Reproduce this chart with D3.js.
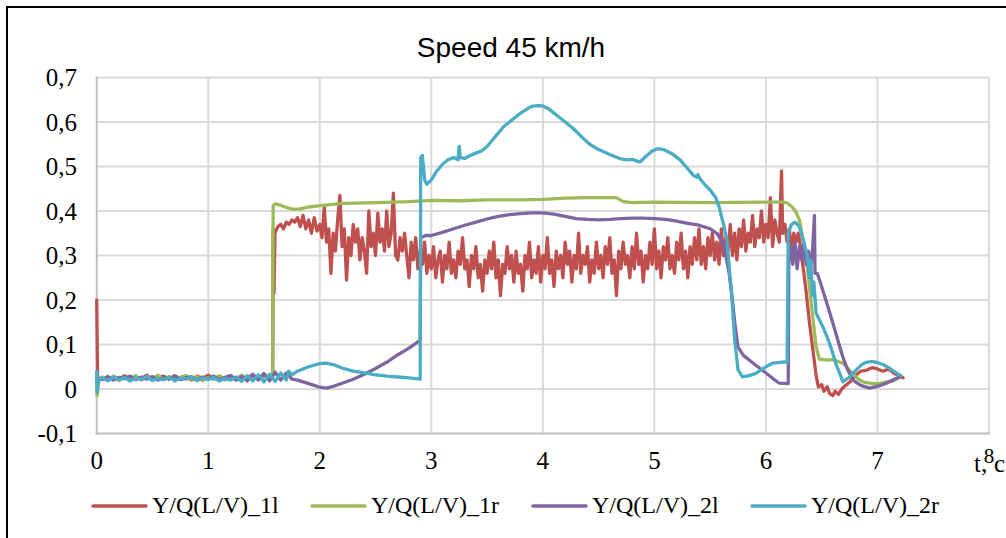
<!DOCTYPE html>
<html><head><meta charset="utf-8">
<script src="https://cdn.jsdelivr.net/npm/d3@7"></script>
<style>body{margin:0;background:#fff}svg{display:block}</style>
</head><body>
<svg id="chart" width="1006" height="538"></svg>
<script>
const chartTitle = "Speed 45 km/h";
const xAxisTitle = "t,c";
const xTicks = [0,1,2,3,4,5,6,7,8];
const yTicks = [-0.1,0,0.1,0.2,0.3,0.4,0.5,0.6,0.7];
const seriesNames = ["Y/Q(L/V)_1l","Y/Q(L/V)_1r","Y/Q(L/V)_2l","Y/Q(L/V)_2r"];
const seriesColors = ["#c0504d","#9bbb59","#8064a2","#4bacc6"];

const s1l = [[0,0.20],[0.008,0.022],[0.05,0.026],[0.10,0.019],[0.15,0.028],[0.20,0.022],[0.25,0.03],[0.30,0.021],[0.35,0.027],[0.40,0.024],[0.45,0.031],[0.50,0.02],[0.55,0.026],[0.60,0.029],[0.65,0.022],[0.70,0.03],[0.75,0.023],[0.80,0.027],[0.85,0.02],[0.90,0.029],[0.95,0.024],[1.00,0.031],[1.05,0.022],[1.10,0.027],[1.15,0.024],[1.20,0.03],[1.25,0.021],[1.30,0.028],[1.35,0.025],[1.40,0.032],[1.45,0.022],[1.50,0.029],[1.55,0.024],[1.578,0.03],
[1.582,0.36],[1.59,0.215],[1.598,0.35],[1.625,0.365],[1.65,0.37],[1.675,0.36],[1.70,0.375],[1.725,0.37],[1.75,0.38],[1.775,0.375],[1.80,0.385],[1.825,0.365],[1.85,0.39],[1.875,0.36],[1.90,0.38],[1.925,0.35],[1.95,0.385],[1.975,0.355],
[2.00,0.37],[2.02,0.34],[2.04,0.41],[2.06,0.33],[2.08,0.36],[2.10,0.26],[2.12,0.35],[2.14,0.31],[2.16,0.38],[2.18,0.435],[2.20,0.32],[2.22,0.36],[2.24,0.245],[2.26,0.34],[2.28,0.30],[2.30,0.37],[2.32,0.33],[2.34,0.36],[2.36,0.29],[2.38,0.34],[2.40,0.31],[2.42,0.26],[2.44,0.40],[2.46,0.32],[2.48,0.35],[2.50,0.30],[2.52,0.395],[2.54,0.33],[2.56,0.36],[2.58,0.31],[2.60,0.40],[2.62,0.32],[2.64,0.35],[2.66,0.44],[2.68,0.30],[2.70,0.29],[2.72,0.34],[2.74,0.31],[2.76,0.35],[2.78,0.30],[2.80,0.25],[2.82,0.33],[2.84,0.29],[2.86,0.34],[2.88,0.27],[2.90,0.31],[2.92,0.28],[2.94,0.33],[2.96,0.26],[2.98,0.30],
[3.00,0.27],[3.02,0.32],[3.04,0.25],[3.06,0.29],[3.08,0.31],[3.10,0.24],[3.12,0.30],[3.14,0.27],[3.16,0.33],[3.18,0.26],[3.20,0.29],[3.22,0.25],[3.24,0.31],[3.26,0.28],[3.28,0.34],[3.30,0.27],[3.32,0.29],[3.34,0.23],[3.36,0.30],[3.38,0.27],[3.40,0.32],[3.42,0.25],[3.44,0.28],[3.46,0.22],[3.48,0.29],[3.50,0.26],[3.52,0.31],[3.54,0.27],[3.56,0.33],[3.58,0.25],[3.60,0.29],[3.62,0.21],[3.64,0.28],[3.66,0.26],[3.68,0.32],[3.70,0.27],[3.72,0.30],[3.74,0.24],[3.76,0.31],[3.78,0.26],[3.80,0.28],[3.82,0.22],[3.84,0.30],[3.86,0.27],[3.88,0.33],[3.90,0.25],[3.92,0.29],[3.94,0.26],[3.96,0.32],[3.98,0.24],
[4.00,0.30],[4.02,0.27],[4.04,0.34],[4.06,0.26],[4.08,0.29],[4.10,0.23],[4.12,0.31],[4.14,0.27],[4.16,0.30],[4.18,0.25],[4.20,0.33],[4.22,0.28],[4.24,0.31],[4.26,0.24],[4.28,0.30],[4.30,0.27],[4.32,0.35],[4.34,0.26],[4.36,0.30],[4.38,0.28],[4.40,0.32],[4.42,0.24],[4.44,0.29],[4.46,0.26],[4.48,0.33],[4.50,0.27],[4.52,0.30],[4.54,0.25],[4.56,0.32],[4.58,0.28],[4.60,0.34],[4.62,0.26],[4.64,0.29],[4.66,0.21],[4.68,0.31],[4.70,0.27],[4.72,0.33],[4.74,0.28],[4.76,0.30],[4.78,0.25],[4.80,0.32],[4.82,0.27],[4.84,0.35],[4.86,0.28],[4.88,0.31],[4.90,0.24],[4.92,0.30],[4.94,0.27],[4.96,0.33],[4.98,0.28],
[5.00,0.36],[5.02,0.27],[5.04,0.31],[5.06,0.25],[5.08,0.32],[5.10,0.29],[5.12,0.34],[5.14,0.27],[5.16,0.30],[5.18,0.26],[5.20,0.33],[5.22,0.29],[5.24,0.35],[5.26,0.27],[5.28,0.31],[5.30,0.25],[5.32,0.32],[5.34,0.28],[5.36,0.34],[5.38,0.29],[5.40,0.36],[5.42,0.28],[5.44,0.32],[5.46,0.27],[5.48,0.34],[5.50,0.30],[5.52,0.35],[5.54,0.29],[5.56,0.33],[5.58,0.28],[5.60,0.36],[5.62,0.30],[5.64,0.34],[5.66,0.31],[5.68,0.37],[5.70,0.30],[5.72,0.35],[5.74,0.29],[5.76,0.36],[5.78,0.32],[5.80,0.38],[5.82,0.31],[5.84,0.35],[5.86,0.33],[5.88,0.39],[5.90,0.32],[5.92,0.36],[5.94,0.34],[5.96,0.40],[5.98,0.33],
[6.00,0.37],[6.02,0.34],[6.04,0.43],[6.06,0.32],[6.08,0.38],[6.10,0.35],[6.12,0.33],[6.14,0.49],[6.15,0.35],[6.17,0.37],[6.19,0.33],[6.21,0.36],[6.23,0.31],[6.25,0.35],[6.27,0.33],[6.29,0.35],[6.31,0.32],
[6.33,0.28],[6.36,0.22],[6.39,0.15],[6.42,0.09],[6.45,0.03],[6.47,0.005],[6.50,0.01],[6.52,-0.005],[6.55,0.005],[6.57,-0.01],[6.60,-0.015],[6.62,-0.005],[6.65,-0.012],[6.68,0.0],[6.70,0.005],[6.75,0.015],[6.80,0.03],[6.85,0.04],[6.90,0.042],[6.95,0.048],[7.00,0.045],[7.05,0.04],[7.10,0.045],[7.15,0.035],[7.20,0.03],[7.23,0.025]];

const s1r = [[0,0.03],[0.004,-0.015],[0.02,0.02],[0.05,0.027],[0.10,0.02],[0.15,0.029],[0.20,0.019],[0.25,0.026],[0.30,0.023],[0.35,0.03],[0.40,0.02],[0.45,0.027],[0.50,0.024],[0.55,0.031],[0.60,0.021],[0.65,0.028],[0.70,0.02],[0.75,0.026],[0.80,0.03],[0.85,0.022],[0.90,0.028],[0.95,0.019],[1.00,0.026],[1.05,0.023],[1.10,0.03],[1.15,0.02],[1.20,0.027],[1.25,0.024],[1.30,0.031],[1.35,0.021],[1.40,0.028],[1.45,0.023],[1.50,0.03],[1.55,0.022],[1.578,0.026],
[1.582,0.412],[1.60,0.416],[1.65,0.413],[1.70,0.408],[1.76,0.404],[1.82,0.405],[1.91,0.409],[2.0,0.412],[2.21,0.417],[2.5,0.419],[2.66,0.42],[2.8,0.421],[3.0,0.424],[3.26,0.423],[3.5,0.425],[3.8,0.425],[4.0,0.426],[4.2,0.429],[4.4,0.43],[4.66,0.43],[4.72,0.421],[4.8,0.419],[5.0,0.42],[5.5,0.419],[6.0,0.42],[6.15,0.42],[6.19,0.418],[6.23,0.41],[6.26,0.402],[6.30,0.38],[6.36,0.297],[6.41,0.185],[6.45,0.094],[6.48,0.067],[6.55,0.065],[6.60,0.066],[6.69,0.058],[6.74,0.045],[6.78,0.034],[6.83,0.022],[6.87,0.016],[6.95,0.012],[7.02,0.012],[7.08,0.016],[7.14,0.018],[7.2,0.027]];

const s2l = [[0,0.025],[0.05,0.021],[0.10,0.028],[0.15,0.02],[0.20,0.026],[0.25,0.023],[0.30,0.029],[0.35,0.021],[0.40,0.027],[0.45,0.022],[0.50,0.028],[0.55,0.02],[0.60,0.026],[0.65,0.023],[0.70,0.029],[0.75,0.021],[0.80,0.025],[0.85,0.028],[0.90,0.02],[0.95,0.027],[1.00,0.023],[1.05,0.029],[1.10,0.021],[1.15,0.026],[1.20,0.03],[1.25,0.02],[1.30,0.028],[1.35,0.018],[1.40,0.033],[1.45,0.02],[1.50,0.035],[1.55,0.018],[1.60,0.038],[1.65,0.02],[1.70,0.036],[1.75,0.022],
[1.80,0.02],[1.85,0.016],[1.90,0.012],[1.95,0.008],[2.00,0.004],[2.06,0.002],[2.12,0.006],[2.20,0.013],[2.30,0.022],[2.40,0.033],[2.50,0.046],[2.60,0.06],[2.70,0.077],[2.80,0.092],[2.88,0.106],[2.90,0.11],[2.905,0.34],[2.95,0.345],[3.0,0.345],[3.1,0.352],[3.2,0.36],[3.3,0.368],[3.4,0.375],[3.5,0.382],[3.6,0.388],[3.7,0.392],[3.8,0.394],[3.9,0.396],[4.0,0.396],[4.1,0.393],[4.2,0.388],[4.3,0.383],[4.4,0.381],[4.5,0.38],[4.6,0.381],[4.7,0.383],[4.8,0.384],[4.9,0.384],[5.0,0.383],[5.1,0.381],[5.2,0.377],[5.3,0.372],[5.4,0.368],[5.5,0.36],[5.56,0.35],[5.61,0.33],[5.64,0.3],[5.67,0.26],[5.70,0.2],[5.72,0.15],[5.75,0.094],[5.80,0.075],[5.85,0.065],[5.9,0.055],[6.0,0.036],[6.06,0.024],[6.12,0.013],[6.2,0.012],
[6.205,0.3],[6.22,0.32],[6.24,0.28],[6.26,0.33],[6.28,0.27],[6.30,0.32],[6.32,0.29],[6.34,0.33],[6.36,0.28],[6.38,0.31],[6.40,0.27],[6.42,0.32],[6.435,0.39],[6.44,0.26],[6.46,0.26],[6.5,0.23],[6.55,0.19],[6.6,0.148],[6.65,0.105],[6.69,0.072],[6.73,0.045],[6.78,0.02],[6.85,0.008],[6.93,0.002],[7.0,0.006],[7.08,0.013],[7.15,0.022],[7.2,0.027]];

const s2r = [[0,0.04],[0.004,-0.008],[0.015,0.02],[0.05,0.025],[0.10,0.019],[0.15,0.027],[0.20,0.021],[0.25,0.026],[0.30,0.018],[0.35,0.025],[0.40,0.022],[0.45,0.028],[0.50,0.019],[0.55,0.024],[0.60,0.021],[0.65,0.027],[0.70,0.018],[0.75,0.025],[0.80,0.022],[0.85,0.027],[0.90,0.019],[0.95,0.025],[1.00,0.021],[1.05,0.026],[1.10,0.018],[1.15,0.024],[1.20,0.02],[1.25,0.027],[1.30,0.017],[1.35,0.03],[1.40,0.018],[1.45,0.032],[1.50,0.016],[1.55,0.033],[1.60,0.017],[1.65,0.036],[1.70,0.02],[1.72,0.04],[1.75,0.032],
[1.80,0.04],[1.90,0.05],[2.00,0.057],[2.06,0.058],[2.12,0.055],[2.20,0.047],[2.30,0.04],[2.40,0.036],[2.50,0.032],[2.60,0.029],[2.70,0.027],[2.80,0.025],[2.90,0.022],[2.905,0.52],[2.92,0.525],[2.94,0.47],[2.96,0.46],[3.0,0.47],[3.05,0.49],[3.10,0.505],[3.15,0.515],[3.20,0.52],[3.24,0.515],[3.25,0.545],[3.26,0.52],[3.30,0.518],[3.35,0.525],[3.40,0.53],[3.45,0.535],[3.50,0.545],[3.55,0.56],[3.60,0.575],[3.65,0.59],[3.70,0.60],[3.75,0.61],[3.80,0.62],[3.85,0.628],[3.90,0.635],[3.95,0.637],[4.00,0.636],[4.05,0.63],[4.10,0.62],[4.15,0.61],[4.20,0.6],[4.27,0.586],[4.35,0.566],[4.42,0.55],[4.50,0.538],[4.60,0.527],[4.70,0.517],[4.75,0.515],[4.80,0.516],[4.87,0.51],[4.92,0.522],[4.98,0.535],[5.03,0.54],[5.08,0.538],[5.15,0.53],[5.23,0.515],[5.30,0.495],[5.35,0.48],[5.38,0.476],[5.39,0.482],[5.41,0.472],[5.45,0.46],[5.50,0.447],[5.55,0.43],[5.58,0.41],[5.62,0.37],[5.65,0.335],[5.69,0.22],[5.72,0.11],[5.75,0.043],[5.79,0.027],[5.85,0.03],[5.91,0.035],[6.00,0.05],[6.06,0.058],[6.17,0.061],[6.19,0.06],
[6.20,0.35],[6.23,0.37],[6.26,0.375],[6.30,0.365],[6.34,0.33],[6.37,0.30],[6.39,0.25],[6.40,0.29],[6.42,0.21],[6.43,0.24],[6.45,0.17],[6.51,0.14],[6.56,0.11],[6.60,0.08],[6.63,0.055],[6.66,0.036],[6.69,0.016],[6.75,0.027],[6.81,0.043],[6.86,0.055],[6.90,0.06],[6.95,0.062],[6.99,0.06],[7.05,0.055],[7.10,0.048],[7.17,0.036],[7.21,0.03]];

const allSeries = [s1l, s1r, s2l, s2r];

const svg = d3.select("#chart");
svg.append("rect").attr("width",1006).attr("height",538).attr("fill","#fff");
svg.append("rect").attr("x",7).attr("y",7).attr("width",1010).attr("height",545)
  .attr("fill","none").attr("stroke","#000").attr("stroke-width",2);

const x = d3.scaleLinear().domain([0,8]).range([96.7,989]);
const y = d3.scaleLinear().domain([-0.1,0.7]).range([433.5,77.5]);
const loc = d3.formatLocale({decimal:",",thousands:" ",grouping:[3],currency:["",""],minus:"-"});
const fmt = loc.format("~g");
const serif = "'Liberation Serif','Times New Roman',serif";

// grid
const grid = svg.append("g");
grid.selectAll("line.h").data(yTicks.filter(d=>d>-0.1)).join("line")
  .attr("x1",x(0)).attr("x2",x(8)).attr("y1",d=>y(d)).attr("y2",d=>y(d))
  .attr("stroke","#d9d9d9").attr("stroke-width",2);
grid.selectAll("line.v").data(xTicks.filter(d=>d>0)).join("line")
  .attr("y1",y(-0.1)).attr("y2",y(0.7)).attr("x1",d=>x(d)).attr("x2",d=>x(d))
  .attr("stroke","#d9d9d9").attr("stroke-width",2);
// axis lines
svg.append("line").attr("x1",x(0)).attr("x2",x(0)).attr("y1",y(-0.1)+1).attr("y2",y(0.7)-1)
  .attr("stroke","#bfbfbf").attr("stroke-width",2);
svg.append("line").attr("x1",x(0)-1).attr("x2",x(8)+1).attr("y1",y(-0.1)).attr("y2",y(-0.1))
  .attr("stroke","#bfbfbf").attr("stroke-width",2);

// tick labels
svg.append("g").selectAll("text").data(yTicks).join("text")
  .attr("x",77).attr("y",d=>y(d)).attr("dy","0.34em").attr("text-anchor","end")
  .attr("font-family",serif).attr("font-size",25).attr("fill","#000").text(d=>fmt(d));
svg.append("g").selectAll("text").data(xTicks).join("text")
  .attr("x",d=>x(d)).attr("y",d=>d===8?463:469).attr("text-anchor","middle")
  .attr("font-family",serif).attr("font-size",d=>d===8?21:25).attr("fill","#000").text(d=>fmt(d));
// axis title "t,c" (split around the overlapping "8" as in the original)
const parts = xAxisTitle.split(",");
const at = svg.append("text").attr("y",472).attr("font-family",serif).attr("font-size",25).attr("fill","#000");
at.append("tspan").attr("x",974).text(parts[0] + ",");
at.append("tspan").attr("x",994).text(parts[1]);

// title
svg.append("text").attr("x",511).attr("y",57).attr("text-anchor","middle")
  .attr("font-family","'Liberation Sans',Arial,sans-serif").attr("font-size",28)
  .attr("fill","#000").text(chartTitle);

// series
const line = d3.line().x(d=>x(d[0])).y(d=>y(d[1]));
svg.append("g").selectAll("path").data(allSeries).join("path")
  .attr("d",line).attr("fill","none")
  .attr("stroke",(d,i)=>seriesColors[i]).attr("stroke-width",3.3)
  .attr("stroke-linejoin","round").attr("stroke-linecap","round");

// legend
const legX = [93,312,533,752];
const lg = svg.append("g").selectAll("g").data(seriesNames).join("g")
  .attr("transform",(d,i)=>`translate(${legX[i]},506)`);
lg.append("line").attr("x1",0).attr("x2",53).attr("y1",0).attr("y2",0)
  .attr("stroke",(d,i)=>seriesColors[i]).attr("stroke-width",3.5).attr("stroke-linecap","round");
lg.append("text").attr("x",59).attr("y",7).attr("font-family",serif)
  .attr("font-size",24).attr("fill","#000").text(d=>d);
</script>
</body></html>
